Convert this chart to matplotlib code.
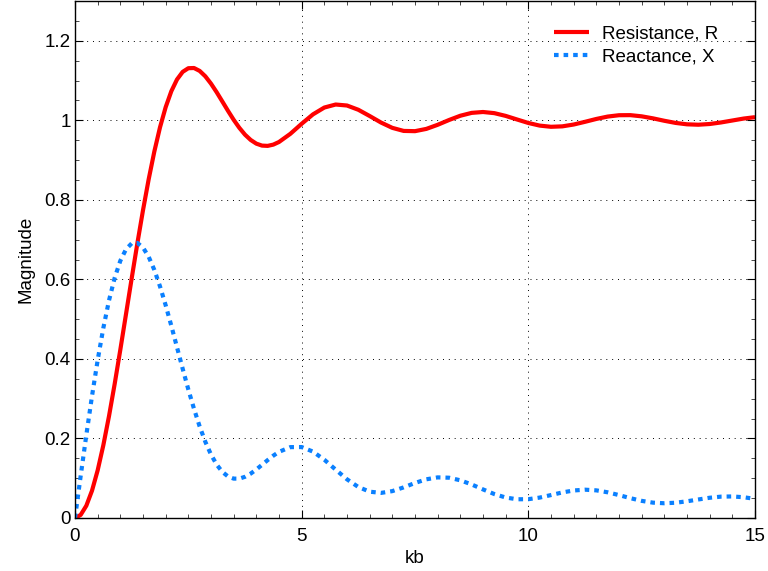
import matplotlib
matplotlib.use("Agg")
import matplotlib.pyplot as plt
from matplotlib.ticker import MultipleLocator

plt.rcParams['font.family'] = ['Liberation Sans', 'DejaVu Sans']

kb = [0.0, 0.125, 0.25, 0.375, 0.5, 0.625, 0.75, 0.875, 1.0, 1.125, 1.25, 1.375, 1.5, 1.625,
      1.75, 1.875, 2.0, 2.125, 2.25, 2.375, 2.5, 2.625, 2.75, 2.875, 3.0, 3.125, 3.25, 3.375,
      3.5, 3.625, 3.75, 3.875, 4.0, 4.125, 4.25, 4.375, 4.5,
      4.75, 5.0, 5.25, 5.5, 5.75, 6.0, 6.25, 6.5, 6.75, 7.0, 7.25, 7.5, 7.75,
      8.0, 8.25, 8.5, 8.75, 9.0, 9.25, 9.5, 9.75, 10.0, 10.25, 10.5, 10.75, 11.0, 11.25, 11.5,
      11.75, 12.0, 12.25, 12.5, 12.75, 13.0, 13.25, 13.5, 13.75, 14.0, 14.25, 14.5, 14.75, 15.0]

resistance = [0.0, 0.0078, 0.0309, 0.0687, 0.1199, 0.1830, 0.2561, 0.3370, 0.4233, 0.5126,
              0.6023, 0.6902, 0.7739, 0.8516, 0.9215, 0.9823, 1.0330, 1.0732, 1.1027, 1.1218,
              1.1310, 1.1315, 1.1242, 1.1106, 1.0922, 1.0706, 1.0473, 1.0238, 1.0013, 0.9811,
              0.9639, 0.9506, 0.9413, 0.9364, 0.9357, 0.9389, 0.9455,
              0.9660, 0.9913, 1.0150, 1.0321, 1.0397, 1.0372, 1.0265, 1.0108, 0.9944, 0.9810,
              0.9733, 0.9727, 0.9784, 0.9887, 1.0007, 1.0115, 1.0187, 1.0209, 1.0180, 1.0111,
              1.0021, 0.9933, 0.9867, 0.9837, 0.9848, 0.9894, 0.9962, 1.0034, 1.0094, 1.0128,
              1.0130, 1.0100, 1.0049, 0.9988, 0.9934, 0.9899, 0.9889, 0.9907, 0.9946, 0.9995,
              1.0044, 1.0079]

reactance = [0.0, 0.1057, 0.2087, 0.3066, 0.3969, 0.4777, 0.5471, 0.6037, 0.6468, 0.6757,
             0.6905, 0.6917, 0.6801, 0.6569, 0.6238, 0.5824, 0.5349, 0.4832, 0.4293, 0.3754,
             0.3231, 0.2745, 0.2301, 0.1916, 0.1595, 0.1343, 0.1160, 0.1044, 0.0990, 0.0990,
             0.1036, 0.1116, 0.1220, 0.1337, 0.1456, 0.1568, 0.1663,
             0.1782, 0.1784, 0.1669, 0.1465, 0.1216, 0.0973, 0.0779, 0.0662, 0.0631, 0.0676,
             0.0770, 0.0881, 0.0973, 0.1021, 0.1013, 0.0948, 0.0843, 0.0719, 0.0602, 0.0515,
             0.0471, 0.0473, 0.0513, 0.0577, 0.0643, 0.0692, 0.0712, 0.0695, 0.0646, 0.0576,
             0.0499, 0.0431, 0.0386, 0.0371, 0.0384, 0.0420, 0.0466, 0.0509, 0.0537, 0.0542,
             0.0522, 0.0481]

x_ticks = [0, 5, 10, 15]
x_tick_labels = ['0', '5', '10', '15']
y_ticks = [0, 0.2, 0.4, 0.6, 0.8, 1.0, 1.2]
y_tick_labels = ['0', '0.2', '0.4', '0.6', '0.8', '1', '1.2']

fig = plt.figure(figsize=(7.68, 5.71), dpi=100)
ax = fig.add_axes([75/768, 53/571, 680/768, 517/571])

ax.plot(kb, resistance, color='#ff0000', lw=3, label='Resistance, R',
        solid_capstyle='butt', solid_joinstyle='round')
ax.plot(kb, reactance, color='#0a80ff', lw=3, linestyle=(0, (1.1, 1.2)),
        dash_capstyle='butt', label='Reactance, X')

ax.set_xlim(0, 15)
ax.set_ylim(0, 1.3)
ax.set_xticks(x_ticks)
ax.set_xticklabels(x_tick_labels)
ax.set_yticks(y_ticks)
ax.set_yticklabels(y_tick_labels)
ax.xaxis.set_minor_locator(MultipleLocator(0.5))
ax.yaxis.set_minor_locator(MultipleLocator(0.05))

ax.tick_params(which='major', direction='in', length=6, width=0.8, top=True, right=True,
               labelsize=13.5, colors='black')
ax.tick_params(axis='x', which='major', pad=7)
ax.tick_params(axis='y', which='major', pad=3)
ax.tick_params(which='minor', direction='in', length=3, width=0.5, top=True, right=True)

ax.grid(True, which='major', color='black', linestyle=(0, (1, 5)), linewidth=0.7)
for s in ax.spines.values():
    s.set_linewidth(1.0)

ax.set_xlabel('kb', fontsize=13.5, labelpad=4)
ax.set_ylabel('Magnitude', fontsize=13.5, labelpad=7)

leg = ax.legend(loc='upper right', bbox_to_anchor=(1 - 12/680, 1.0), frameon=False,
                fontsize=13.5, handlelength=1.9, handletextpad=0.7, labelspacing=0.32,
                borderaxespad=0.9)

fig.savefig('out.png', dpi=100)
